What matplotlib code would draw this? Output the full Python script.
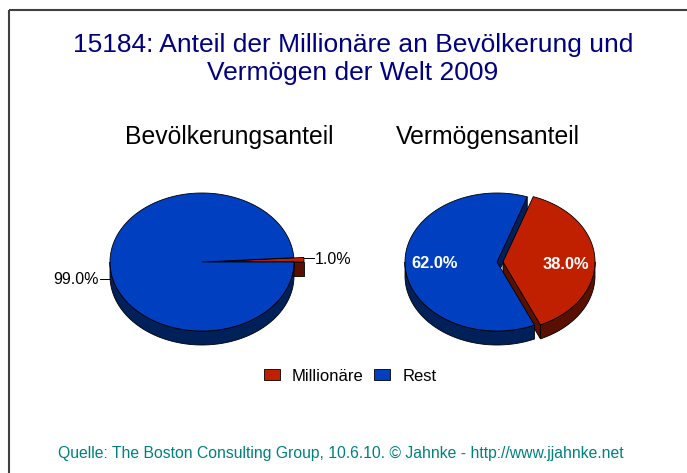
import numpy as np
import matplotlib.pyplot as plt
from matplotlib.patches import Polygon, Patch

plt.rcParams['font.family'] = ['Liberation Sans', 'DejaVu Sans']

title = "15184: Anteil der Millionäre an Bevölkerung und\nVermögen der Welt 2009"
source = "Quelle: The Boston Consulting Group, 10.6.10. © Jahnke - http://www.jjahnke.net"
categories = ["Millionäre", "Rest"]
pie_titles = ["Bevölkerungsanteil", "Vermögensanteil"]
bevoelkerung = [1.0, 99.0]
vermoegen = [38.0, 62.0]

top_colors = ["#c02000", "#0040c0"]
side_colors = ["#5a1000", "#00205a"]

RX, RY, DEPTH = 92, 69, 14


def rim(cx, cy, t):
    t = np.radians(np.atleast_1d(t))
    return np.column_stack([cx + RX*np.cos(t), cy - RY*np.sin(t)])


def draw_pie(ax, cx, cy, values, start, explode):
    faces, walls, tops = [], [], []
    a1 = start
    out = []
    for i, v in enumerate(values):
        a2 = a1 + v*3.6
        mid = (a1 + a2)/2
        sx = cx + explode[i]*np.cos(np.radians(mid))
        sy = cy - explode[i]*np.sin(np.radians(mid))*RY/RX
        c = np.array([sx, sy])
        d = np.array([0, DEPTH])
        # cut faces
        if np.cos(np.radians(a1)) > 0:
            p = rim(sx, sy, a1)[0]
            faces.append((np.array([c, p, p+d, c+d]), i))
        if np.cos(np.radians(a2)) < 0:
            p = rim(sx, sy, a2)[0]
            faces.append((np.array([c, p, p+d, c+d]), i))
        # outer wall (front half only)
        for k in (-1, 0, 1):
            lo = max(a1, 180 + 360*k)
            hi = min(a2, 360 + 360*k)
            if hi > lo:
                arc = rim(sx, sy, np.linspace(lo, hi, 80))
                walls.append((np.vstack([arc, arc[::-1] + d]), i))
        arc = rim(sx, sy, np.linspace(a1, a2, 200))
        tops.append((np.vstack([c, arc]), i))
        out.append((sx, sy, mid))
        a1 = a2
    for z, group in enumerate([faces, walls, tops]):
        for pts, i in group:
            col = side_colors[i] if z < 2 else top_colors[i]
            ax.add_patch(Polygon(pts, closed=True, facecolor=col,
                                 edgecolor='black', linewidth=0.6, zorder=2+z))
    return out


fig = plt.figure(figsize=(6.87, 4.73), dpi=100)
ax = fig.add_axes([0, 0, 1, 1])
ax.set_xlim(0, 687)
ax.set_ylim(473, 0)
ax.axis('off')

# frame
ax.plot([9, 687], [10, 10], color='#404040', lw=1.5, solid_capstyle='butt')
ax.plot([9, 9], [10, 473], color='#404040', lw=1.5, solid_capstyle='butt')

ax.text(353, 59, title, ha='center', va='center', fontsize=19,
        color='#000080', linespacing=1.17)

ax.text(229, 137, pie_titles[0], ha='center', va='center', fontsize=17.8)
ax.text(488, 137, pie_titles[1], ha='center', va='center', fontsize=17.8)

# left pie: labels outside
info = draw_pie(ax, 202, 262, bevoelkerung, 0, [10, 0])
lab_dy = [-2, 15]
text_dy = [2, 0]
for i, (sx, sy, mid) in enumerate(info):
    p = rim(sx, sy, mid)[0]
    y = p[1] + lab_dy[i]
    side = 1 if np.cos(np.radians(mid)) > 0 else -1
    ax.plot([p[0], p[0] + side*10], [y, y], color='black', lw=0.7, zorder=6)
    ax.text(p[0] + side*11, y + text_dy[i], f"{bevoelkerung[i]:.1f}%", fontsize=11.5,
            ha='left' if side > 0 else 'right', va='center', zorder=6)

# right pie: labels inside
info = draw_pie(ax, 497, 262, vermoegen, -66, [6, 0])
in_dy = [5, 0]
for i, (sx, sy, mid) in enumerate(info):
    p = rim(sx, sy, mid)[0]
    lx = sx + 0.68*(p[0] - sx)
    ly = sy + 0.68*(p[1] - sy) + in_dy[i]
    ax.text(lx, ly, f"{vermoegen[i]:.1f}%", fontsize=11.8, fontweight='bold',
            color='white', ha='center', va='center', zorder=6)

handles = [Patch(facecolor=top_colors[i], edgecolor='black', linewidth=0.6)
           for i in range(2)]
ax.legend(handles, categories, loc='center', bbox_to_anchor=(350/687, 1 - 376/473),
          ncol=2, frameon=False, fontsize=12, handlelength=1.0, handleheight=0.6,
          handletextpad=0.7, columnspacing=0.6)

ax.text(341, 453, source, ha='center', va='center', fontsize=11.3, color='#008080')

fig.savefig('out.png', dpi=100)
